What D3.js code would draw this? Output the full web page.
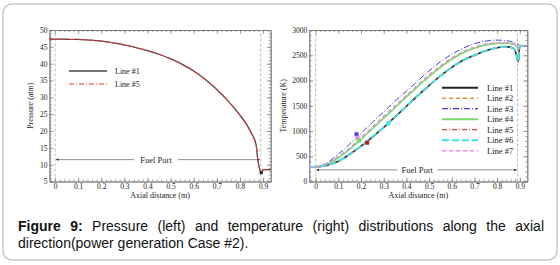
<!DOCTYPE html>
<html>
<head>
<meta charset="utf-8">
<script src="https://cdn.jsdelivr.net/npm/d3@7"></script>
<style>
  body { margin: 0; background: #fff; }
  #wrap { position: relative; width: 560px; height: 265px; }
  #caption {
    position: absolute; left: 18px; top: 217.5px; width: 526px;
    font: 14px "Liberation Sans", Arial, sans-serif; line-height: 17px;
    text-align: justify; color: #111;
  }
  #caption b { font-weight: bold; }
</style>
</head>
<body>
<div id="wrap">
  <svg id="chart" width="560" height="265"></svg>
  <div id="caption"><b>Figure 9:</b> Pressure (left) and temperature (right) distributions along the axial direction(power generation Case #2).</div>
</div>
<script>
// pressure panel data
const pressX = [-0.024, 0, 0.05, 0.1, 0.15, 0.2, 0.25, 0.3, 0.35, 0.4, 0.45, 0.5, 0.55, 0.6, 0.65, 0.7, 0.75, 0.8, 0.83, 0.85, 0.87, 0.877, 0.884, 0.892, 0.897, 0.9, 0.91, 0.933];
const pressLine1 = [47.3, 47.3, 47.25, 47.2, 47.0, 46.7, 46.2, 45.6, 44.8, 43.9, 42.8, 41.4, 39.8, 37.8, 35.3, 32.3, 28.8, 24.7, 21.8, 19.3, 15.8, 11.6, 9.0, 7.6, 8.2, 8.5, 8.5, 8.5];
const pressLine5 = [47.3, 47.3, 47.2, 47.15, 47.0, 46.7, 46.2, 45.5, 44.8, 43.9, 42.8, 41.4, 39.8, 37.8, 35.3, 32.3, 28.8, 24.7, 21.8, 19.3, 15.8, 11.6, 9.0, 7.6, 8.2, 8.5, 8.5, 8.5];
const pressNames = ["Line #1", "Line #5"];

// temperature panel data
const tempX = [-0.028, 0, 0.05, 0.1, 0.15, 0.2, 0.25, 0.3, 0.35, 0.4, 0.45, 0.5, 0.55, 0.6, 0.65, 0.7, 0.75, 0.8, 0.84, 0.87, 0.88, 0.893, 0.9, 0.933];
const tempLine1 = [290, 290, 320, 400, 540, 700, 880, 1070, 1280, 1490, 1700, 1900, 2090, 2260, 2400, 2500, 2590, 2650, 2670, 2640, 2590, 2370, 2680, 2685];
const tempLine2 = [285, 285, 345, 480, 650, 850, 1060, 1270, 1480, 1690, 1895, 2095, 2275, 2435, 2560, 2650, 2715, 2745, 2750, 2725, 2710, 2640, 2690, 2690];
const tempLine3 = [285, 285, 370, 540, 740, 955, 1170, 1380, 1590, 1790, 1990, 2190, 2370, 2520, 2640, 2730, 2780, 2800, 2790, 2760, 2745, 2710, 2695, 2690];
const tempLine4 = [285, 285, 340, 470, 640, 835, 1045, 1255, 1465, 1675, 1880, 2080, 2260, 2420, 2550, 2640, 2705, 2735, 2740, 2720, 2705, 2630, 2690, 2690];
const tempLine5 = [290, 290, 318, 398, 535, 700, 885, 1075, 1285, 1495, 1705, 1905, 2095, 2265, 2405, 2505, 2595, 2655, 2672, 2640, 2585, 2360, 2680, 2685];
const tempLine6 = [290, 290, 322, 402, 542, 705, 890, 1075, 1280, 1490, 1700, 1900, 2090, 2260, 2400, 2500, 2590, 2650, 2668, 2638, 2590, 2380, 2680, 2685];
const tempLine7 = [285, 285, 355, 500, 670, 875, 1085, 1295, 1505, 1710, 1915, 2115, 2295, 2450, 2575, 2665, 2725, 2750, 2752, 2728, 2712, 2650, 2690, 2690];
const tempNames = ["Line #1", "Line #2", "Line #3", "Line #4", "Line #5", "Line #6", "Line #7"];
// square markers on the curves: [x, T, line index]
const tempMarks = [[0.18, 935, 2], [0.185, 870, 6], [0.19, 810, 3], [0.227, 768, 4], [0.32, 1150, 5]];

const xTicks = [0, 0.1, 0.2, 0.3, 0.4, 0.5, 0.6, 0.7, 0.8, 0.9];
const pressTicks = [5, 10, 15, 20, 25, 30, 35, 40, 45, 50];
const tempTicks = [0, 500, 1000, 1500, 2000, 2500, 3000];
const portEdges = [0, 0.89];

const svg = d3.select("#chart");
const serif = "'Liberation Serif', 'Times New Roman', serif";

// rounded outer frame
svg.append("rect")
  .attr("x", 3).attr("y", 4).attr("width", 554).attr("height", 256)
  .attr("rx", 9).attr("fill", "none").attr("stroke", "#c8c8c8").attr("stroke-width", 1.5);

// arrow heads
const defs = svg.append("defs");
defs.append("marker").attr("id", "arr").attr("viewBox", "0 0 10 10")
  .attr("refX", 10).attr("refY", 5).attr("markerWidth", 6).attr("markerHeight", 4)
  .attr("orient", "auto-start-reverse")
  .append("path").attr("d", "M0,0L10,5L0,10z").attr("fill", "#111");

const styles = {
  p1: { stroke: "#444", dash: null, w: 1.3 },
  p5: { stroke: "#e23a3a", dash: "5,2,1,2", w: 1.1 },
  t: [
    { stroke: "#222", dash: null, w: 1.6 },
    { stroke: "#e6903c", dash: "4,3", w: 1.1 },
    { stroke: "#4040d8", dash: "6,2,1,2", w: 1.0 },
    { stroke: "#7ad86a", dash: null, w: 1.6 },
    { stroke: "#e04040", dash: "5,2,1,2", w: 1.0 },
    { stroke: "#40e4e4", dash: "7,3", w: 1.8 },
    { stroke: "#f08cf0", dash: "4,3", w: 1.2 }
  ]
};

function panel(opts) {
  const { x, y, yTicks, yMinor, xMinor, yLabel, yLabelX } = opts;
  const g = svg.append("g");
  const [x0, x1] = x.range();
  const [y0, y1] = y.range();

  const axisStyle = sel => {
    sel.selectAll(".domain").attr("stroke", "#777").attr("stroke-width", 0.8);
    sel.selectAll(".tick line").attr("stroke", "#777").attr("stroke-width", 0.7);
    sel.selectAll("text").attr("font-family", serif).attr("font-size", 7.5).attr("fill", "#222");
  };

  // bottom / top
  g.append("g").attr("transform", `translate(0,${y0})`)
    .call(d3.axisBottom(x).tickValues(xTicks).tickFormat(d3.format("")).tickSize(-4).tickSizeOuter(0).tickPadding(2))
    .call(axisStyle);
  g.append("g").attr("transform", `translate(0,${y0})`)
    .call(d3.axisBottom(x).tickValues(xMinor).tickFormat("").tickSize(-2).tickSizeOuter(0))
    .call(axisStyle);
  g.append("g").attr("transform", `translate(0,${y1})`)
    .call(d3.axisTop(x).tickValues(xTicks).tickFormat("").tickSize(-4).tickSizeOuter(0))
    .call(axisStyle);
  g.append("g").attr("transform", `translate(0,${y1})`)
    .call(d3.axisTop(x).tickValues(xMinor).tickFormat("").tickSize(-2).tickSizeOuter(0))
    .call(axisStyle);
  // left / right
  g.append("g").attr("transform", `translate(${x0},0)`)
    .call(d3.axisLeft(y).tickValues(yTicks).tickFormat(d3.format("")).tickSize(-4).tickSizeOuter(0).tickPadding(2))
    .call(axisStyle);
  g.append("g").attr("transform", `translate(${x0},0)`)
    .call(d3.axisLeft(y).tickValues(yMinor).tickFormat("").tickSize(-2).tickSizeOuter(0))
    .call(axisStyle);
  g.append("g").attr("transform", `translate(${x1},0)`)
    .call(d3.axisRight(y).tickValues(yTicks).tickFormat("").tickSize(-4).tickSizeOuter(0))
    .call(axisStyle);
  g.append("g").attr("transform", `translate(${x1},0)`)
    .call(d3.axisRight(y).tickValues(yMinor).tickFormat("").tickSize(-2).tickSizeOuter(0))
    .call(axisStyle);

  // fuel port edges
  g.selectAll(".edge").data(portEdges).join("line")
    .attr("x1", d => x(d)).attr("x2", d => x(d))
    .attr("y1", y0).attr("y2", y1)
    .attr("stroke", "#aaa").attr("stroke-width", 0.8).attr("stroke-dasharray", "3,2");

  // axis labels
  g.append("text").attr("x", (x0 + x1) / 2).attr("y", 198)
    .attr("text-anchor", "middle").attr("font-family", serif).attr("font-size", 8).attr("fill", "#222")
    .text("Axial distance (m)");
  g.append("text").attr("transform", `translate(${yLabelX},${(y0 + y1) / 2}) rotate(-90)`)
    .attr("text-anchor", "middle").attr("font-family", serif).attr("font-size", 8).attr("fill", "#222")
    .text(yLabel);
  return g;
}

function fuelPort(g, x, yPix, cx, halfGap) {
  g.append("line").attr("x1", x(cx) - halfGap).attr("x2", x(0) + 1)
    .attr("y1", yPix).attr("y2", yPix).attr("stroke", "#444").attr("stroke-width", 0.6)
    .attr("marker-end", "url(#arr)");
  g.append("line").attr("x1", x(cx) + halfGap).attr("x2", x(portEdges[1]) - 1)
    .attr("y1", yPix).attr("y2", yPix).attr("stroke", "#444").attr("stroke-width", 0.6)
    .attr("marker-end", "url(#arr)");
  g.append("text").attr("x", x(cx)).attr("y", yPix + 3)
    .attr("text-anchor", "middle").attr("font-family", serif).attr("font-size", 8.5).attr("fill", "#222")
    .text("Fuel Port");
}

function drawLine(g, xs, ys, x, y, st) {
  const line = d3.line().x(d => x(d[0])).y(d => y(d[1])).curve(d3.curveMonotoneX);
  g.append("path").datum(xs.map((v, i) => [v, ys[i]]))
    .attr("d", line).attr("fill", "none")
    .attr("stroke", st.stroke).attr("stroke-width", st.w)
    .attr("stroke-dasharray", st.dash);
}

// ---- left: pressure ----
const xL = d3.scaleLinear().domain([-0.024, 0.933]).range([49.5, 270.7]);
const yL = d3.scaleLinear().domain([5, 50]).range([181.5, 30]);
const gL = panel({
  x: xL, y: yL, yTicks: pressTicks, yMinor: d3.range(5, 50.01, 1),
  xMinor: d3.range(-0.02, 0.93, 0.02), yLabel: "Pressure (atm)", yLabelX: 33
});
fuelPort(gL, xL, yL(11.5), 0.437, 22);
drawLine(gL, pressX, pressLine1, xL, yL, styles.p1);
drawLine(gL, pressX, pressLine5, xL, yL, styles.p5);
gL.append("rect").attr("x", xL(0.892) - 1.5).attr("y", yL(7.6) - 1.5)
  .attr("width", 3).attr("height", 3).attr("fill", "#222");

const legL = gL.selectAll(".leg").data(pressNames).join("g")
  .attr("transform", (d, i) => `translate(69,${71 + i * 13})`);
legL.append("line").attr("x1", 0).attr("x2", 38)
  .attr("stroke", (d, i) => [styles.p1, styles.p5][i].stroke)
  .attr("stroke-width", (d, i) => [styles.p1, styles.p5][i].w)
  .attr("stroke-dasharray", (d, i) => [styles.p1, styles.p5][i].dash);
legL.append("text").attr("x", 46).attr("y", 3)
  .attr("font-family", serif).attr("font-size", 8).attr("fill", "#222").text(d => d);

// ---- right: temperature ----
const xR = d3.scaleLinear().domain([-0.028, 0.933]).range([309.3, 527.3]);
const yR = d3.scaleLinear().domain([0, 3000]).range([181.5, 30]);
const gR = panel({
  x: xR, y: yR, yTicks: tempTicks, yMinor: d3.range(0, 3001, 100),
  xMinor: d3.range(-0.02, 0.93, 0.02), yLabel: "Temperature (K)", yLabelX: 286
});
fuelPort(gR, xR, yR(230), 0.448, 20);
const tempSeries = [tempLine1, tempLine2, tempLine3, tempLine4, tempLine5, tempLine6, tempLine7];
tempSeries.forEach((s, i) => drawLine(gR, tempX, s, xR, yR, styles.t[i]));
gR.selectAll(".mk").data(tempMarks).join("rect")
  .attr("x", d => xR(d[0]) - 2).attr("y", d => yR(d[1]) - 2)
  .attr("width", 4).attr("height", 4)
  .attr("fill", d => d[2] === 4 ? "#c01818" : styles.t[d[2]].stroke);

const legR = gR.selectAll(".leg").data(tempNames).join("g")
  .attr("transform", (d, i) => `translate(442,${87.7 + i * 10.5})`);
legR.append("line").attr("x1", 0).attr("x2", 36)
  .attr("stroke", (d, i) => styles.t[i].stroke)
  .attr("stroke-width", (d, i) => styles.t[i].w + 0.3)
  .attr("stroke-dasharray", (d, i) => styles.t[i].dash);
legR.append("text").attr("x", 45).attr("y", 3)
  .attr("font-family", serif).attr("font-size", 8.5).attr("fill", "#222").text(d => d);
</script>
</body>
</html>
